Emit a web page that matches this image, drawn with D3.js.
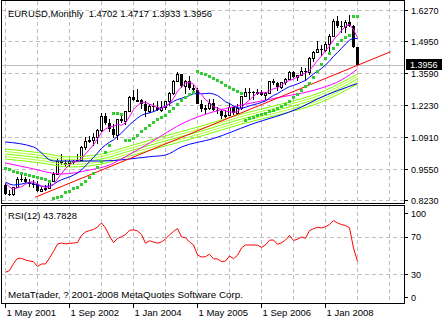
<!DOCTYPE html>
<html><head><meta charset="utf-8">
<script src="https://cdn.jsdelivr.net/npm/d3@7/dist/d3.min.js"></script>
<style>
html,body{margin:0;padding:0;background:#fff;}
svg{display:block;}
text{font-family:"Liberation Sans",Arial,sans-serif;font-size:9.5px;fill:#000;}
.ax{font-size:9px;}
</style></head><body>
<svg id="chart" width="446" height="323"></svg>
<script>
// ---------- DATA ----------
const titleText = "EURUSD,Monthly  1.4702 1.4717 1.3933 1.3956";
const rsiTitle = "RSI(12) 43.7828";
const copyright = "MetaTrader, ? 2001-2008 MetaQuotes Software Corp.";
const lastPrice = 1.3956;

const open = [0.8860,0.8490,0.8480,0.8760,0.9120,0.9110,0.9000,0.8910,0.8900,0.8600,
0.8700,0.8720,0.9020,0.9330,0.9870,0.9780,0.9810,0.9860,0.9890,0.9930,
1.0490,1.0730,1.0790,1.0910,1.1180,1.1800,1.1490,1.1240,1.0990,1.1650,
1.1580,1.1990,1.2590,1.2470,1.2480,1.2300,1.1980,1.2200,1.2170,1.2020,
1.2170,1.2430,1.2760,1.3270,1.3550,1.3040,1.3250,1.2960,1.2870,1.2300,
1.2090,1.2130,1.2340,1.2030,1.1990,1.1790,1.1840,1.2160,1.1920,1.2120,
1.2620,1.2810,1.2790,1.2770,1.2810,1.2670,1.2760,1.3250,1.3200,1.3020,
1.3230,1.3360,1.3650,1.3450,1.3540,1.3680,1.3630,1.4260,1.4480,1.4630,
1.4590,1.4840,1.5180,1.5790,1.5610,1.5550,1.5750,1.5600,1.4702];
const high = [0.8950,0.8660,0.8800,0.9200,0.9320,0.9210,0.9110,0.9070,0.9050,0.8790,
0.8850,0.9070,0.9400,0.9960,1.0190,0.9920,0.9950,0.9940,1.0180,1.0500,
1.0880,1.0930,1.1080,1.1230,1.1930,1.1930,1.1640,1.1450,1.1660,1.1830,
1.2010,1.2650,1.2900,1.2930,1.2500,1.2410,1.2280,1.2330,1.2400,1.2400,
1.2440,1.2820,1.3310,1.3660,1.3580,1.3290,1.3490,1.3100,1.2970,1.2470,
1.2250,1.2520,1.2500,1.2180,1.2100,1.2040,1.2320,1.2160,1.2290,1.2640,
1.2980,1.2960,1.2830,1.2910,1.2880,1.2790,1.3250,1.3360,1.3220,1.3240,
1.3390,1.3680,1.3680,1.3540,1.3850,1.3800,1.4280,1.4530,1.4970,1.4770,
1.4910,1.5240,1.5900,1.6020,1.5820,1.5840,1.6040,1.5640,1.4717];
const low = [0.8440,0.8400,0.8420,0.8730,0.8990,0.8950,0.8770,0.8740,0.8580,0.8560,
0.8620,0.8700,0.9000,0.9300,0.9690,0.9620,0.9620,0.9690,0.9870,0.9860,
1.0330,1.0660,1.0500,1.0620,1.1120,1.1420,1.1100,1.0870,1.0760,1.1480,
1.1390,1.1960,1.2400,1.2390,1.2080,1.1760,1.1900,1.1950,1.2000,1.1960,
1.2050,1.2210,1.2690,1.3210,1.2970,1.2730,1.2870,1.2760,1.2300,1.1940,
1.1870,1.2050,1.1990,1.1870,1.1640,1.1690,1.1800,1.1830,1.1880,1.2050,
1.2610,1.2450,1.2480,1.2680,1.2640,1.2480,1.2750,1.3110,1.2860,1.2940,
1.3080,1.3310,1.3410,1.3260,1.3490,1.3260,1.3540,1.4090,1.4440,1.4340,
1.4500,1.4510,1.5120,1.5510,1.5280,1.5310,1.5550,1.4660,1.3933];
const close = [0.8490,0.8480,0.8760,0.9120,0.9110,0.9000,0.8910,0.8900,0.8600,0.8700,
0.8720,0.9020,0.9330,0.9870,0.9780,0.9810,0.9860,0.9890,0.9930,1.0490,
1.0730,1.0790,1.0910,1.1180,1.1800,1.1490,1.1240,1.0990,1.1650,1.1580,
1.1990,1.2590,1.2470,1.2480,1.2300,1.1980,1.2200,1.2170,1.2020,1.2170,
1.2430,1.2760,1.3270,1.3550,1.3040,1.3250,1.2960,1.2870,1.2300,1.2090,
1.2130,1.2340,1.2030,1.1990,1.1790,1.1840,1.2160,1.1920,1.2120,1.2620,
1.2810,1.2790,1.2770,1.2810,1.2670,1.2760,1.3250,1.3200,1.3020,1.3230,
1.3360,1.3650,1.3450,1.3540,1.3680,1.3630,1.4260,1.4480,1.4630,1.4590,
1.4840,1.5180,1.5790,1.5610,1.5550,1.5750,1.5600,1.4700,1.3956];

// fast moving average (magenta)
const maFast = [0.8952,0.8772,0.8682,0.8746,0.8792,0.8894,0.8980,0.9008,0.8904,0.8822,
0.8766,0.8788,0.8874,0.9128,0.9344,0.9562,0.9730,0.9842,0.9854,0.9996,
1.0180,1.0366,1.0570,1.0820,1.1082,1.1234,1.1324,1.1340,1.1434,1.1390,
1.1490,1.1760,1.2056,1.2222,1.2366,1.2364,1.2286,1.2226,1.2134,1.2108,
1.2198,1.2310,1.2530,1.2836,1.3010,1.3174,1.3214,1.3134,1.2884,1.2694,
1.2470,1.2346,1.2178,1.2116,1.2056,1.1998,1.1962,1.1940,1.1966,1.2132,
1.2326,1.2452,1.2622,1.2760,1.2770,1.2760,1.2852,1.2938,1.2980,1.3092,
1.3212,1.3292,1.3342,1.3446,1.3536,1.3590,1.3712,1.3918,1.4136,1.4318,
1.4560,1.4744,1.5006,1.5202,1.5394,1.5576,1.5660,1.5442,1.5111];
// medium moving average (blue)
const maMid = [0.8990,0.8903,0.8861,0.8881,0.8904,0.8947,0.8961,0.8920,0.8855,0.8813,
0.8806,0.8818,0.8888,0.9003,0.9088,0.9146,0.9208,0.9283,0.9368,0.9500,
0.9678,0.9852,1.0034,1.0214,1.0420,1.0555,1.0677,1.0775,1.0924,1.1065,
1.1237,1.1412,1.1557,1.1698,1.1813,1.1880,1.1913,1.1970,1.2035,1.2133,
1.2198,1.2297,1.2403,1.2483,1.2531,1.2595,1.2650,1.2724,1.2733,1.2726,
1.2735,1.2749,1.2716,1.2652,1.2528,1.2386,1.2313,1.2202,1.2132,1.2111,
1.2153,1.2212,1.2265,1.2304,1.2358,1.2422,1.2543,1.2657,1.2728,1.2838,
1.2941,1.3027,1.3080,1.3143,1.3218,1.3287,1.3419,1.3563,1.3678,1.3793,
1.3945,1.4108,1.4310,1.4473,1.4648,1.4833,1.4993,1.5082,1.5056];

// parabolic SAR
const sar = [0.9571,0.9529,0.9470,0.9428,0.9385,0.9330,0.9288,0.9246,0.9191,0.9148,0.9106,0.9034,
0.8302,0.8344,0.8399,0.8556,0.8623,0.8725,0.8793,0.8894,0.9034,0.9216,0.9385,0.9614,0.9880,1.0248,1.0557,
1.1930,1.1910,1.1880,
1.0760,1.0785,1.0860,1.0980,1.1140,1.1280,1.1412,1.1533,1.1645,1.1748,1.1843,1.1975,1.2123,1.2292,1.2460,1.2589,1.2715,1.2821,
1.3701,1.3617,1.3562,1.3477,1.3380,1.3308,1.3211,1.3096,1.2999,1.2927,1.2855,1.2758,
1.1636,1.1679,1.1742,1.1806,1.1869,1.1924,1.1996,1.2038,1.2102,1.2187,1.2292,1.2440,1.2589,1.2715,
1.2864,1.3033,1.3202,1.3435,1.3689,1.3985,1.4239,1.4450,1.4662,1.4852,1.5001,1.5127,1.5212,1.6037,1.6010];

// RSI(12)
const rsi = [32.1,34.0,41.5,47.0,47.0,45.2,44.1,43.4,38.3,41.0,
41.0,47.3,54.3,62.2,63.3,62.4,62.9,63.3,63.8,71.3,
75.0,76.6,77.7,80.3,84.6,79.3,70.7,63.8,68.1,70.0,
72.3,76.8,77.3,76.1,72.3,63.0,65.7,64.4,63.1,64.4,
67.6,71.8,75.6,78.7,69.7,68.9,64.4,61.2,50.5,48.4,
48.7,51.3,46.5,46.3,43.6,44.1,49.5,46.6,50.2,58.0,
61.2,61.2,61.2,61.0,58.7,61.2,66.3,66.5,61.9,63.5,
66.5,71.3,66.0,67.3,69.7,68.3,76.5,78.6,80.0,79.3,
80.6,82.9,87.2,84.6,82.8,82.0,79.5,58.0,43.78];

// slow averages, read at sample months
const greenIdx = [0,9,16,24,31,39,49,59,69,79,88];
const green1 = [1.0388,1.0219,1.0050,1.0177,1.0515,1.0896,1.1361,1.1869,1.2292,1.2800,1.3562];
const green2 = [1.0282,1.0113,0.9944,1.0071,1.0409,1.0790,1.1255,1.1763,1.2186,1.2694,1.3456];
const green3 = [1.0176,1.0007,0.9838,0.9965,1.0303,1.0684,1.1149,1.1657,1.2080,1.2588,1.3350];
const green4 = [1.0070,0.9901,0.9732,0.9859,1.0197,1.0578,1.1043,1.1551,1.1974,1.2482,1.3244];
const green5 = [0.9964,0.9795,0.9626,0.9753,1.0091,1.0472,1.0937,1.1445,1.1868,1.2376,1.3138];
const slowBlueIdx = [0,7,12,24,36,40,44,52,61,74,78,88];
const slowBlue = [1.0684,1.0473,0.9880,0.9880,1.0062,1.0134,1.0473,1.0832,1.1404,1.2165,1.2504,1.3160];
const slowMagIdx = [0,6,14,21,26,30,36,45,51,59,69,79,84,88];
const slowMag = [0.9796,0.9584,0.9330,0.9499,0.9711,1.0062,1.0642,1.1531,1.1912,1.2250,1.2588,1.2969,1.3308,1.3773];
// red trend line anchors
const trendIdx = [7.4, 96.3];
const trendVal = [0.8344, 1.4505];

// axes
const priceTicks = [1.6270,1.4950,1.3590,1.2230,1.0910,0.9550,0.8230];
const rsiTicks = [100,70,30,0];
const rsiGrid = [70,30];
const dateTickIdx = [0,16,32,48,64,80];
const dateTickLabels = ["1 May 2001","1 Sep 2002","1 Jan 2004","1 May 2005","1 Sep 2006","1 Jan 2008"];
const gridIdx = [0,8,16,24,32,40,48,56,64,72,80,88,96];

// ---------- LAYOUT ----------
const W = 446, H = 323;
const L = 1, R = 404, mainTop = 1, mainBottom = 203, rsiTop = 205, rsiBottom = 303;
const svg = d3.select("#chart");
const x = d3.scaleLinear().domain([0, 88]).range([5.5, 357.5]);
const y = d3.scaleLinear().domain([0.8230, 1.6270]).range([200, 10]);
const yr = d3.scaleLinear().domain([0, 100]).range([302.5, 208.5]);

svg.append("rect").attr("width", W).attr("height", H).attr("fill", "#fff");

const defs = svg.append("defs");
defs.append("clipPath").attr("id","cm").append("rect").attr("x",L).attr("y",mainTop).attr("width",R-L).attr("height",mainBottom-mainTop);
defs.append("clipPath").attr("id","cr").append("rect").attr("x",L).attr("y",rsiTop).attr("width",R-L).attr("height",rsiBottom-rsiTop);

const gridCol = "#c0c0c0";
const grid = svg.append("g").attr("shape-rendering","crispEdges").attr("stroke",gridCol).attr("stroke-dasharray","4,3");
gridIdx.forEach(i => {
  const gx = Math.floor(x(i)) + 0.5;
  if (gx <= L + 1 || gx >= R) return;
  grid.append("line").attr("x1",gx).attr("x2",gx).attr("y1",mainTop).attr("y2",mainBottom);
  grid.append("line").attr("x1",gx).attr("x2",gx).attr("y1",rsiTop).attr("y2",rsiBottom);
});
priceTicks.forEach(v => {
  const gy = Math.round(y(v)) + 0.5;
  grid.append("line").attr("x1",L).attr("x2",R).attr("y1",gy).attr("y2",gy);
});
rsiGrid.forEach(v => {
  const gy = Math.round(yr(v)) + 0.5;
  grid.append("line").attr("x1",L).attr("x2",R).attr("y1",gy).attr("y2",gy);
});

// current price line
const lpY = Math.round(y(lastPrice)) + 0.5;
svg.append("line").attr("x1",L).attr("x2",R).attr("y1",lpY).attr("y2",lpY)
  .attr("stroke","#c0c0c0").attr("shape-rendering","crispEdges");

const main = svg.append("g").attr("clip-path","url(#cm)");

// candles
const cg = main.append("g").attr("shape-rendering","crispEdges");
close.forEach((c, i) => {
  const cx = Math.floor(x(i)) + 0.5;
  cg.append("line").attr("x1",cx).attr("x2",cx).attr("y1",y(high[i])).attr("y2",y(low[i])).attr("stroke","#000");
  const top = Math.round(y(Math.max(open[i], c))), bot = Math.round(y(Math.min(open[i], c)));
  if (c >= open[i]) {
    cg.append("rect").attr("x",cx-1).attr("y",top+0.5).attr("width",2).attr("height",Math.max(bot-top,1))
      .attr("fill","#fff").attr("stroke","#000");
  } else {
    cg.append("rect").attr("x",cx-1.5).attr("y",top).attr("width",3).attr("height",Math.max(bot-top,1))
      .attr("fill","#000");
  }
});

// lines
const lineIdx = (idx, vals, curve) => d3.line().x((d,k)=>x(idx[k])).y(d=>y(d)).curve(curve || d3.curveLinear)(vals);
const lineAll = vals => d3.line().x((d,i)=>x(i)).y(d=>y(d))(vals);
const lg = main.append("g").attr("fill","none").attr("stroke-width",1);
const greenCols = ["#7cfc00","#adff2f","#7cfc00","#adff2f","#7cfc00"];
[green1,green2,green3,green4,green5].forEach((g,k) => {
  lg.append("path").attr("d", lineIdx(greenIdx, g, d3.curveMonotoneX)).attr("stroke", greenCols[k]);
});
lg.append("path").attr("d", lineIdx(slowBlueIdx, slowBlue, d3.curveMonotoneX)).attr("stroke","#0000ff");
lg.append("path").attr("d", lineIdx(slowMagIdx, slowMag, d3.curveMonotoneX)).attr("stroke","#ff00ff");
lg.append("path").attr("d", lineIdx(trendIdx, trendVal)).attr("stroke","#ff0000");
lg.append("path").attr("d", lineAll(maMid)).attr("stroke","#0000ff");
lg.append("path").attr("d", lineAll(maFast)).attr("stroke","#ff00ff");

// SAR dots
const sg = main.append("g").attr("fill","#32cd32").attr("shape-rendering","crispEdges");
sar.forEach((v,i) => {
  sg.append("rect").attr("x", Math.floor(x(i))-1).attr("y", Math.round(y(v))-1).attr("width",3).attr("height",3);
});

// RSI
svg.append("g").attr("clip-path","url(#cr)").append("path")
  .attr("d", d3.line().x((d,i)=>x(i)).y(d=>yr(d))(rsi))
  .attr("fill","none").attr("stroke","#ff0000").attr("stroke-width",1);

// frames
const fr = svg.append("g").attr("fill","none").attr("stroke","#000").attr("shape-rendering","crispEdges");
fr.append("rect").attr("x",L+0.5).attr("y",mainTop-0.5).attr("width",R-L).attr("height",mainBottom-mainTop+1);
fr.append("rect").attr("x",L+0.5).attr("y",rsiTop+0.5).attr("width",R-L).attr("height",rsiBottom-rsiTop);

// right axis labels
const ax = svg.append("g");
priceTicks.forEach(v => {
  const ty = Math.round(y(v)) + 0.5;
  ax.append("line").attr("x1",R).attr("x2",R+4).attr("y1",ty).attr("y2",ty).attr("stroke","#000").attr("shape-rendering","crispEdges");
  ax.append("text").attr("class","ax").attr("x",411).attr("y",ty+3.5).text(d3.format(".4f")(v));
});
rsiTicks.forEach(v => {
  const ty = Math.max(rsiTop+8, Math.min(rsiBottom-6, yr(v)));
  ax.append("line").attr("x1",R).attr("x2",R+4).attr("y1",Math.round(ty)+0.5).attr("y2",Math.round(ty)+0.5).attr("stroke","#000").attr("shape-rendering","crispEdges");
  ax.append("text").attr("class","ax").attr("x",411).attr("y",ty+3.5).text(v);
});
// last price box
ax.append("rect").attr("x",406).attr("y",lpY-6.5).attr("width",36).attr("height",11).attr("fill","#000");
ax.append("text").attr("class","ax").attr("x",410).attr("y",lpY+2).style("fill","#fff").text(d3.format(".4f")(lastPrice));

// date axis
dateTickIdx.forEach((i,k) => {
  const tx = Math.floor(x(i)) + 0.5;
  ax.append("line").attr("x1",tx).attr("x2",tx).attr("y1",rsiBottom).attr("y2",rsiBottom+5).attr("stroke","#000").attr("shape-rendering","crispEdges");
  ax.append("text").attr("x",tx+1).attr("y",316).text(dateTickLabels[k]);
});

// titles
svg.append("text").attr("x",8).attr("y",17).style("white-space","pre").attr("textLength",204).attr("lengthAdjust","spacingAndGlyphs").text(titleText);
svg.append("text").attr("x",8).attr("y",219).attr("textLength",69).attr("lengthAdjust","spacingAndGlyphs").text(rsiTitle);
svg.append("text").attr("x",8).attr("y",298).attr("textLength",235).attr("lengthAdjust","spacingAndGlyphs").text(copyright);
</script>
</body></html>
